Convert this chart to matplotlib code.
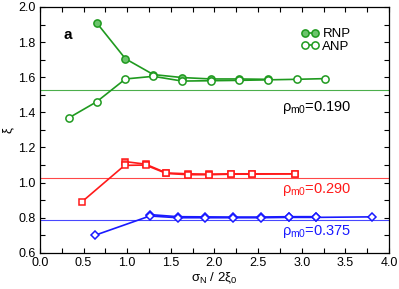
import numpy as np
import matplotlib
matplotlib.use('Agg')
import matplotlib.pyplot as plt
from matplotlib.ticker import MultipleLocator

plt.rcParams['font.family'] = ['Liberation Sans', 'DejaVu Sans']
plt.rcParams['mathtext.fontset'] = 'custom'
plt.rcParams['mathtext.rm'] = 'Liberation Sans'
plt.rcParams['mathtext.it'] = 'Liberation Sans'

# ── Data ──────────────────────────────────────────────────────────────────────
# rho_m0 = 0.190 (green)
g_rnp_x = [0.65, 0.98, 1.30, 1.63, 1.96, 2.28, 2.61]
g_rnp_y = [1.91, 1.705, 1.615, 1.598, 1.590, 1.590, 1.588]
g_anp_x = [0.33, 0.65, 0.98, 1.30, 1.63, 1.96, 2.28, 2.61, 2.94, 3.27]
g_anp_y = [1.368, 1.460, 1.590, 1.605, 1.578, 1.580, 1.582, 1.585, 1.588, 1.592]
g_ref = 1.525

# rho_m0 = 0.290 (red)
r_rnp_x = [0.97, 1.21, 1.45, 1.70, 1.94, 2.19, 2.43, 2.92]
r_rnp_y = [1.120, 1.105, 1.055, 1.050, 1.048, 1.050, 1.050, 1.050]
r_anp_x = [0.48, 0.97, 1.21, 1.45, 1.70, 1.94, 2.19, 2.43, 2.92]
r_anp_y = [0.890, 1.098, 1.100, 1.052, 1.045, 1.045, 1.048, 1.048, 1.050]
r_ref = 1.028

# rho_m0 = 0.375 (blue)
b_rnp_x = [1.26, 1.58, 1.89, 2.21, 2.53, 2.85, 3.16]
b_rnp_y = [0.818, 0.806, 0.805, 0.804, 0.804, 0.806, 0.806]
b_anp_x = [0.63, 1.26, 1.58, 1.89, 2.21, 2.53, 2.85, 3.16, 3.80]
b_anp_y = [0.700, 0.810, 0.800, 0.800, 0.800, 0.800, 0.802, 0.802, 0.805]
b_ref = 0.785

GREEN = '#1f9a1f'
RED = '#ff1a1a'
BLUE = '#1a1aff'

fig = plt.figure(figsize=(3.99, 2.89), dpi=100)
ax = fig.add_axes([0.100, 0.125, 0.875, 0.851])

series = [
    (g_rnp_x, g_rnp_y, g_anp_x, g_anp_y, g_ref, GREEN, 'o', '#6cc46c', 5.2),
    (r_rnp_x, r_rnp_y, r_anp_x, r_anp_y, r_ref, RED, 's', '#ff7070', 4.6),
    (b_rnp_x, b_rnp_y, b_anp_x, b_anp_y, b_ref, BLUE, 'D', '#6060ff', 4.0),
]
for rx, ry, ax_, ay, ref, col, mk, fill, ms in series:
    ax.axhline(ref, color=col, lw=0.8, alpha=0.8, zorder=1)
    ax.plot(rx, ry, '-', color=col, lw=1.2, marker=mk, ms=ms,
            mfc=fill, mec=col, mew=1.1, zorder=3)
    ax.plot(ax_, ay, '-', color=col, lw=1.2, marker=mk, ms=ms,
            mfc='white', mec=col, mew=1.1, zorder=4)

# legend (green only)
h1, = ax.plot([], [], '-', color=GREEN, lw=1.2, marker='o', ms=5.2,
              mfc='#6cc46c', mec=GREEN, mew=1.1)
h2, = ax.plot([], [], '-', color=GREEN, lw=1.2, marker='o', ms=5.2,
              mfc='white', mec=GREEN, mew=1.1)
ax.legend([h1, h2], ['RNP', 'ANP'], loc='upper right', frameon=False,
          fontsize=9.5, numpoints=2, handlelength=1.3, handletextpad=0.3,
          labelspacing=0.0, borderaxespad=0.0, bbox_to_anchor=(0.905, 0.935))

ax.text(0.27, 1.84, 'a', fontsize=11, fontweight='bold', va='center')
ax.text(3.57, 1.43, r'$\rho_{\rm m0}$=0.190', color='black', fontsize=10.5,
        ha='right', va='center')
ax.text(3.57, 0.96, r'$\rho_{\rm m0}$=0.290', color=RED, fontsize=10.5,
        ha='right', va='center')
ax.text(3.57, 0.722, r'$\rho_{\rm m0}$=0.375', color=BLUE, fontsize=10.5,
        ha='right', va='center')

ax.set_xlim(0, 4.0)
ax.set_ylim(0.6, 2.0)
ax.xaxis.set_major_locator(MultipleLocator(0.5))
ax.xaxis.set_minor_locator(MultipleLocator(0.25))
ax.yaxis.set_major_locator(MultipleLocator(0.2))
ax.yaxis.set_minor_locator(MultipleLocator(0.1))
ax.tick_params(which='both', direction='in', top=True, right=True,
               length=3.5, width=0.8, labelsize=9, pad=3)
ax.xaxis.set_major_formatter(matplotlib.ticker.FormatStrFormatter('%.1f'))
ax.yaxis.set_major_formatter(matplotlib.ticker.FormatStrFormatter('%.1f'))
for sp in ax.spines.values():
    sp.set_linewidth(0.9)

ax.set_xlabel(r'$\sigma_{\rm N}$ / 2$\xi_0$', fontsize=9.5, labelpad=1)
ax.set_ylabel(r'$\xi$', fontsize=9.5, labelpad=1)

fig.savefig('out.png', dpi=100)
